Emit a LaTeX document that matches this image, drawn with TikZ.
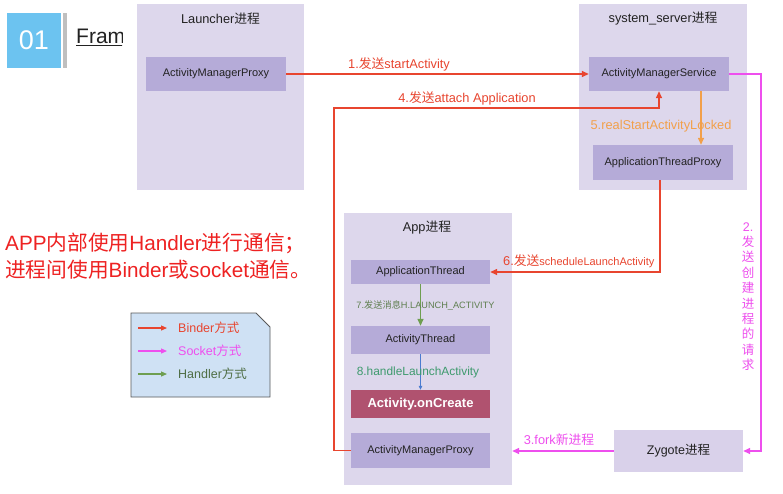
\documentclass[tikz,border=0pt]{standalone}
\usepackage{fontspec}
\setmainfont{Liberation Sans}
\newfontfamily\cjk{Noto Sans CJK SC}
\usetikzlibrary{arrows.meta,calc}
\newcommand{\zh}[1]{{\cjk #1}}
\newcommand{\fsz}[1]{\fontsize{#1}{#1}\selectfont}
\definecolor{panelc}{HTML}{DDD7EC}
\definecolor{innerc}{HTML}{B5ABD8}
\definecolor{zygc}{HTML}{D9D1EA}
\definecolor{createc}{HTML}{B0526F}
\definecolor{cred}{HTML}{E8452F}
\definecolor{cmag}{HTML}{EE4FEE}
\definecolor{corange}{HTML}{F2A04A}
\definecolor{cgreen}{HTML}{6E9E50}
\definecolor{cblue}{HTML}{4A7BD0}
\definecolor{tblue}{HTML}{6CC3F0}
\definecolor{legc}{HTML}{CFE1F4}
\definecolor{lab8}{HTML}{3E9A6E}
\definecolor{lab7}{HTML}{5F7F50}
\definecolor{legg}{HTML}{4F6E45}
\definecolor{notec}{HTML}{EE2222}
\definecolor{textc}{HTML}{222222}
\tikzset{
  panelbox/.style={fill=panelc, draw=none, inner sep=0pt},
  innerbox/.style={fill=innerc, draw=none, inner sep=0pt, text=textc, font=\fsz{11}},
  titletext/.style={text=textc, font=\fsz{12.8}, inner sep=0pt},
  lab/.style={inner sep=0pt, font=\fsz{12.8}},
  binderarrow/.style={draw=cred, line width=1.4pt, -{Triangle[length=7pt,width=6pt]}},
  socketarrow/.style={draw=cmag, line width=1.4pt, -{Triangle[length=7pt,width=6pt]}},
  handlerarrow/.style={draw=cgreen, line width=1.4pt, -{Triangle[length=7pt,width=6pt]}},
}
\begin{document}
\begin{tikzpicture}[x=1pt,y=-1pt]
\useasboundingbox[fill=white] (0,0) rectangle (783,493);

% header
\node[fill=tblue, minimum width=54pt, minimum height=55pt, inner sep=0pt, text=white, font=\fsz{27}] (num) at (34,40.5) {01};
\node[fill=black!25, minimum width=4pt, minimum height=55pt, inner sep=0pt] (bar) at (65,40.5) {};
\begin{scope}
\clip (70,15) rectangle (122,60);
\node[anchor=base west, inner sep=0pt, text=textc, font=\fsz{21}] (fram) at (76,43.3) {\underline{Framework}};
\end{scope}

% panels
\node[panelbox, minimum width=167pt, minimum height=186pt] (launcher) at (220.5,97) {};
\node[panelbox, minimum width=168pt, minimum height=186pt] (sysserv) at (663,97) {};
\node[panelbox, minimum width=168pt, minimum height=272pt] (app) at (428,349) {};
\node[titletext] (launcherT) at (220.5,19) {Launcher\zh{进程}};
\node[titletext] (sysT) at (663,19) {system\_server\zh{进程}};
\node[titletext] (appT) at (427,228) {App\zh{进程}};

% inner boxes
\node[innerbox, minimum width=140pt, minimum height=34pt] (lamp) at (216,74) {ActivityManagerProxy};
\node[innerbox, minimum width=140pt, minimum height=34pt] (ams) at (659,74) {ActivityManagerService};
\node[innerbox, minimum width=140pt, minimum height=35pt] (atp) at (663,162.5) {ApplicationThreadProxy};
\node[innerbox, minimum width=139pt, minimum height=24pt] (at) at (420.5,272) {ApplicationThread};
\node[innerbox, minimum width=139pt, minimum height=28pt] (actt) at (420.5,340) {ActivityThread};
\node[fill=createc, minimum width=139pt, minimum height=28pt, inner sep=0pt, text=white, font=\fsz{13}\bfseries] (oncreate) at (420.5,404) {Activity.onCreate};
\node[innerbox, minimum width=139pt, minimum height=35pt] (aamp) at (420.5,450.5) {ActivityManagerProxy};
\node[fill=zygc, minimum width=129pt, minimum height=42pt, inner sep=0pt, text=textc, font=\fsz{12.5}] (zyg) at (678.5,451) {Zygote\zh{进程}};

% connectors
\coordinate (c4) at (334,108);
\coordinate (c2) at (761,74);
\coordinate (c5) at (701,0);
\coordinate (c6) at (660,0);

\draw[binderarrow] (lamp.east) -- (ams.west);
\draw[binderarrow] (aamp.west) -| (c4) -| (ams.south);
\draw[binderarrow] (atp.south -| c6) |- (at.east);
\draw[draw=corange, line width=1.4pt, -{Triangle[length=7pt,width=6pt]}] (ams.south -| c5) -- (atp.north -| c5);
\draw[socketarrow] (ams.east) -- (c2) |- (zyg.east);
\draw[socketarrow] (zyg.west) -- (zyg.west -| app.east);
\draw[handlerarrow] (at.south) -- (actt.north);
\draw[draw=cblue, line width=0.7pt, -{Triangle[length=4pt,width=3.5pt]}] (actt.south) -- (oncreate.north);

% labels
\node[lab, text=cred] (l1) at (399,64) {1.\zh{发送}startActivity};
\node[lab, text=cred] (l4) at (467,98) {4.\zh{发送}attach Application};
\node[lab, text=corange] (l5) at (661,126) {5.realStartActivityLocked};
\node[lab, text=cred, anchor=west] (l6) at (503,261) {6.\zh{发送}{\fsz{11}scheduleLaunchActivity}};
\node[lab, text=lab7, font=\fsz{9.2}] (l7) at (425.5,305) {7.\zh{发送消息}H.LAUNCH\_ACTIVITY};
\node[lab, text=lab8, font=\fsz{11.9}] (l8) at (418,372) {8.handleLaunchActivity};
\node[lab, text=cmag] (l3) at (559,440) {3.fork\zh{新进程}};
\node[inner sep=0pt, text=cmag, font=\fontsize{12.5}{15.4}\selectfont, align=center] (l2) at (748,296.5) {2.\\\zh{发}\\\zh{送}\\\zh{创}\\\zh{建}\\\zh{进}\\\zh{程}\\\zh{的}\\\zh{请}\\\zh{求}};

% note
\node[anchor=base west, inner sep=0pt, text=notec, font=\fsz{20.7}] (note1) at (5,250) {APP\zh{内部使用}Handler\zh{进行通信；}};
\node[anchor=base west, inner sep=0pt, text=notec, font=\fsz{20.7}] (note2) at (5,277) {\zh{进程间使用}Binder\zh{或}socket\zh{通信。}};

% legend
\draw[fill=legc, draw=black!65, line width=0.9pt] (131,313) -- (256,313) -- (270,327) -- (270,397) -- (131,397) -- cycle;
\coordinate (lg1a) at (138,328); \coordinate (lg1b) at (167,328);
\coordinate (lg2a) at (138,351); \coordinate (lg2b) at (167,351);
\coordinate (lg3a) at (138,374); \coordinate (lg3b) at (167,374);
\draw[draw=cred, line width=1.2pt, -{Triangle[length=6pt,width=5pt]}] (lg1a) -- (lg1b);
\draw[draw=cmag, line width=1.2pt, -{Triangle[length=6pt,width=5pt]}] (lg2a) -- (lg2b);
\draw[draw=cgreen, line width=1.2pt, -{Triangle[length=6pt,width=5pt]}] (lg3a) -- (lg3b);
\node[anchor=west, inner sep=0pt, text=cred, font=\fsz{12.5}] (lt1) at (178,328) {Binder\zh{方式}};
\node[anchor=west, inner sep=0pt, text=cmag, font=\fsz{12.5}] (lt2) at (178,351) {Socket\zh{方式}};
\node[anchor=west, inner sep=0pt, text=legg, font=\fsz{12.5}] (lt3) at (178,374) {Handler\zh{方式}};
\end{tikzpicture}
\end{document}
